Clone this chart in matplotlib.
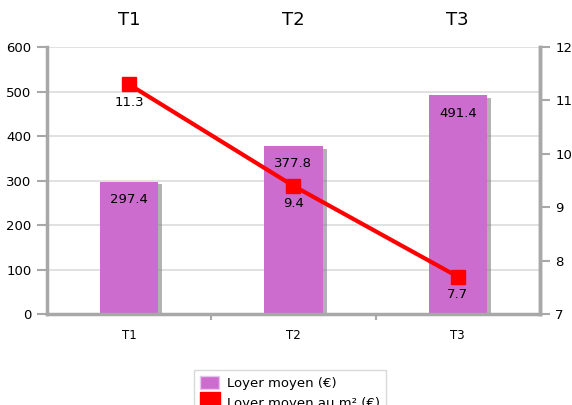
import matplotlib.pyplot as plt
import matplotlib.patheffects as pe
from matplotlib.patches import Patch
from matplotlib.lines import Line2D

categories = ["T1", "T2", "T3"]
loyer_moyen = [297.4, 377.8, 491.4]
loyer_m2 = [11.3, 9.4, 7.7]

BAR_COLOR = "#cc6ccf"
LINE_COLOR = "#ff0000"
AXIS_COLOR = "#a8a8a8"
GRID_COLOR = "#dcdcdc"


def main() -> None:
    plt.rcParams["font.family"] = "DejaVu Sans"
    fig = plt.figure(figsize=(5.72, 4.05), dpi=100)
    ax = fig.add_axes([0.082, 0.2247, 0.862, 0.659])
    x = range(len(categories))

    bars = ax.bar(x, loyer_moyen, width=0.355, color=BAR_COLOR, zorder=2)
    for bar in bars:
        bar.set_path_effects([
            pe.SimplePatchShadow(offset=(3, -2), shadow_rgbFace="#808080", alpha=0.6),
            pe.Normal(),
        ])
    for xi, v in zip(x, loyer_moyen):
        ax.annotate(f"{v}", (xi, v), xytext=(0, -13), textcoords="offset points",
                    ha="center", va="center", fontsize=9.5, zorder=5)

    ax.set_xlim(-0.5, 2.5)
    ax.set_ylim(0, 600)
    ax.set_yticks(range(0, 601, 100))
    ax.set_xticks(list(x))
    ax.set_xticklabels(categories)
    ax.set_xticks([0.5, 1.5], minor=True)
    ax.yaxis.grid(True, color=GRID_COLOR, linewidth=1.2, zorder=0)
    ax.set_axisbelow(True)

    ax.spines["top"].set_visible(False)
    for side in ("left", "bottom", "right"):
        ax.spines[side].set_color(AXIS_COLOR)
        ax.spines[side].set_linewidth(2.5)
    ax.tick_params(axis="y", colors=AXIS_COLOR, labelcolor="black", length=7,
                   width=1.5, labelsize=9.5, pad=4)
    ax.tick_params(axis="x", which="major", length=0, labelsize=8.5, pad=11)
    ax.tick_params(axis="x", which="minor", length=4, width=1.5, colors=AXIS_COLOR)

    ax2 = ax.twinx()
    ax2.plot(x, loyer_m2, color=LINE_COLOR, linewidth=3, marker="s",
             markersize=10.5, zorder=4)
    for xi, v in zip(x, loyer_m2):
        ax2.annotate(f"{v}", (xi, v), xytext=(0, -13), textcoords="offset points",
                     ha="center", va="center", fontsize=9.5, zorder=5)
    ax2.set_ylim(7, 12)
    ax2.set_yticks(range(7, 13))
    for side in ("left", "top", "bottom"):
        ax2.spines[side].set_visible(False)
    ax2.spines["right"].set_color(AXIS_COLOR)
    ax2.spines["right"].set_linewidth(2.5)
    ax2.tick_params(axis="y", colors=AXIS_COLOR, labelcolor="black", length=7,
                    width=1.5, labelsize=9.5, pad=4)

    # category names repeated above the plot
    top = ax.secondary_xaxis("top")
    top.set_xticks(list(x))
    top.set_xticklabels(categories)
    top.tick_params(length=0, labelsize=13, pad=13)
    top.spines["top"].set_visible(False)

    handles = [
        Patch(facecolor=BAR_COLOR, edgecolor="#e6c6e8"),
        Line2D([], [], color=LINE_COLOR, marker="s", markersize=14, linestyle="none"),
    ]
    fig.legend(handles, ["Loyer moyen (€)", "Loyer moyen au m² (€)"],
               loc="upper center", bbox_to_anchor=(0.507, 0.1037),
               fontsize=9.5, frameon=True, fancybox=False,
               edgecolor="#d0d0d0", handlelength=1.5, handleheight=1.2,
               borderpad=0.45, labelspacing=0.47, handletextpad=0.6)

    fig.savefig("out.png", dpi=100)
    plt.close(fig)


if __name__ == "__main__":
    main()
